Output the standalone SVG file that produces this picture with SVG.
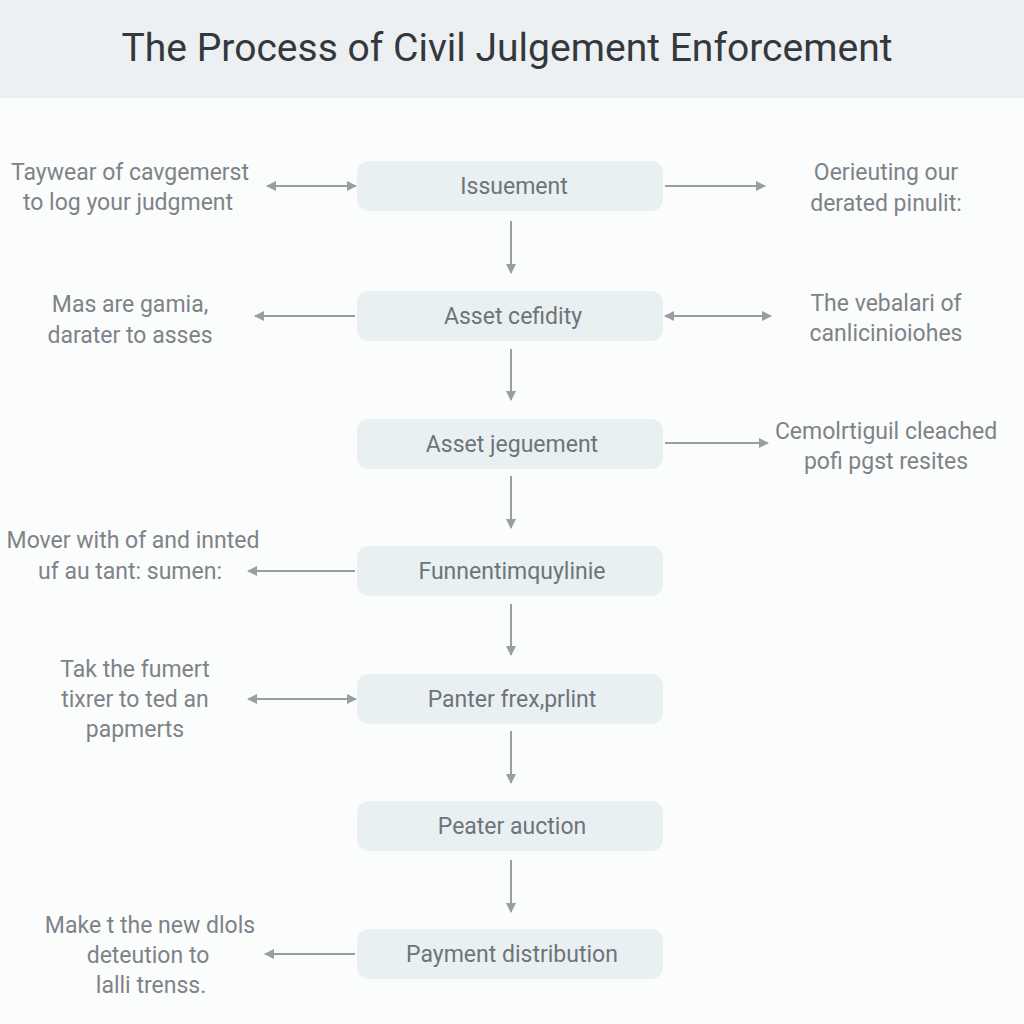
<svg xmlns="http://www.w3.org/2000/svg" width="1024" height="1024" viewBox="0 0 1024 1024">
<style>
.title{font-family:Roboto,"Open Sans","Liberation Sans",sans-serif;font-size:38px;fill:#34383c;text-anchor:middle}
.node rect{fill:#e9f0f2}
.node text{font-family:Roboto,"Open Sans","Liberation Sans",sans-serif;font-size:23px;fill:#6e7479;text-anchor:middle}
.lbl{font-family:Roboto,"Open Sans","Liberation Sans",sans-serif;font-size:23px;fill:#7e8388;text-anchor:middle}
.conn line{stroke:#9a9ea1;stroke-width:2;fill:none}
</style>
<defs>
<marker id="ah" viewBox="0 0 10 10" refX="9" refY="5" markerWidth="5" markerHeight="5" orient="auto-start-reverse" markerUnits="strokeWidth">
<path d="M0,0 L10,5 L0,10 Z" fill="#9a9ea1"/>
</marker>
</defs>
<rect x="0" y="0" width="1024" height="1024" fill="#fbfcfc"/>
<rect x="0" y="0" width="1024" height="98" fill="#ecf0f2"/>
<text class="title" x="507" y="61" textLength="771" lengthAdjust="spacingAndGlyphs">The Process of Civil Julgement Enforcement</text>

<g id="n1" class="node"><rect x="357" y="161" width="306" height="50" rx="12"/><text x="514" y="194">Issuement</text></g>
<g id="n2" class="node"><rect x="357" y="291" width="306" height="50" rx="12"/><text x="513" y="324">Asset cefidity</text></g>
<g id="n3" class="node"><rect x="357" y="419" width="306" height="50" rx="12"/><text x="512" y="452">Asset jeguement</text></g>
<g id="n4" class="node"><rect x="357" y="546" width="306" height="50" rx="12"/><text x="512" y="579">Funnentimquylinie</text></g>
<g id="n5" class="node"><rect x="357" y="674" width="306" height="50" rx="12"/><text x="512" y="707">Panter frex,prlint</text></g>
<g id="n6" class="node"><rect x="357" y="801" width="306" height="50" rx="12"/><text x="512" y="834">Peater auction</text></g>
<g id="n7" class="node"><rect x="357" y="929" width="306" height="50" rx="12"/><text x="512" y="962">Payment distribution</text></g>

<g id="l1"><text class="lbl" x="130" y="180">Taywear of cavgemerst</text><text class="lbl" x="128" y="210">to log your judgment</text></g>
<g id="l2"><text class="lbl" x="130" y="312">Mas are gamia,</text><text class="lbl" x="130" y="343">darater to asses</text></g>
<g id="l3"><text class="lbl" x="133" y="548">Mover with of and innted</text><text class="lbl" x="130" y="579">uf au tant: sumen:</text></g>
<g id="l4"><text class="lbl" x="135" y="677">Tak the fumert</text><text class="lbl" x="135" y="707">tixrer to ted an</text><text class="lbl" x="135" y="737">papmerts</text></g>
<g id="l5"><text class="lbl" x="150" y="933">Make t the new dlols</text><text class="lbl" x="148" y="963">deteution to</text><text class="lbl" x="151" y="993">lalli trenss.</text></g>
<g id="r1"><text class="lbl" x="886" y="180">Oerieuting our</text><text class="lbl" x="886" y="211">derated pinulit:</text></g>
<g id="r2"><text class="lbl" x="886" y="311">The vebalari of</text><text class="lbl" x="886" y="341">canlicinioiohes</text></g>
<g id="r3"><text class="lbl" x="886" y="439">Cemolrtiguil cleached</text><text class="lbl" x="886" y="469">pofi pgst resites</text></g>

<g id="connectors" class="conn">
<line x1="511" y1="221" x2="511" y2="273" marker-end="url(#ah)"/>
<line x1="511" y1="349" x2="511" y2="400" marker-end="url(#ah)"/>
<line x1="511" y1="476" x2="511" y2="528" marker-end="url(#ah)"/>
<line x1="511" y1="604" x2="511" y2="655" marker-end="url(#ah)"/>
<line x1="511" y1="731" x2="511" y2="783" marker-end="url(#ah)"/>
<line x1="511" y1="860" x2="511" y2="912" marker-end="url(#ah)"/>
<line x1="267" y1="186" x2="356" y2="186" marker-start="url(#ah)" marker-end="url(#ah)"/>
<line x1="355" y1="316" x2="255" y2="316" marker-end="url(#ah)"/>
<line x1="355" y1="571" x2="248" y2="571" marker-end="url(#ah)"/>
<line x1="248" y1="699" x2="356" y2="699" marker-start="url(#ah)" marker-end="url(#ah)"/>
<line x1="355" y1="954" x2="265" y2="954" marker-end="url(#ah)"/>
<line x1="665" y1="186" x2="765" y2="186" marker-end="url(#ah)"/>
<line x1="665" y1="316" x2="771" y2="316" marker-start="url(#ah)" marker-end="url(#ah)"/>
<line x1="665" y1="443" x2="768" y2="443" marker-end="url(#ah)"/>
</g>
</svg>
